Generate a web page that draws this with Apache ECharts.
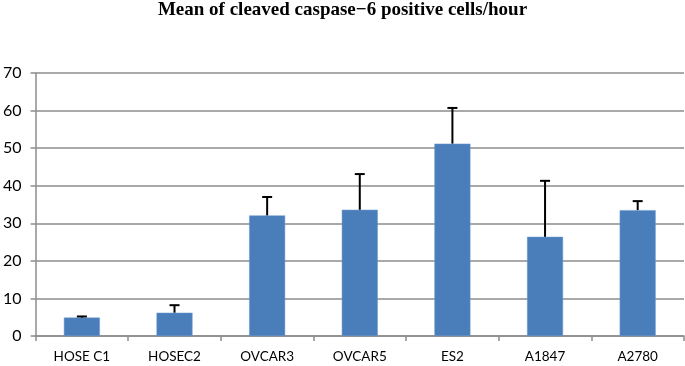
<!DOCTYPE html>
<html>
<head>
<meta charset="utf-8">
<script src="https://cdn.jsdelivr.net/npm/echarts@6/dist/echarts.min.js"></script>
<style>html,body{margin:0;padding:0;background:#fff;}#c{width:685px;height:366px;}</style>
</head>
<body>
<div id="c"></div>
<script>
var categories = ['HOSE C1', 'HOSEC2', 'OVCAR3', 'OVCAR5', 'ES2', 'A1847', 'A2780'];
var means = [4.9, 6.2, 32.1, 33.6, 51.2, 26.4, 33.5];
var errors = [0.3, 2.0, 4.9, 9.5, 9.5, 14.9, 2.4];
var titleText = 'Mean of cleaved caspase\u22126 positive cells/hour';

var errData = categories.map(function (c, i) { return [i, means[i], means[i] + errors[i]]; });

var chart = echarts.init(document.getElementById('c'), null, {renderer: 'canvas'});
chart.setOption({
  animation: false,
  backgroundColor: '#fff',
  title: {
    text: titleText,
    left: 'center',
    top: 0,
    padding: [1, 10, 0, 0],
    textStyle: {fontFamily: 'Liberation Serif', fontWeight: 'bold', fontSize: 19, color: '#000'}
  },
  grid: {left: 33, right: 1, top: 73, bottom: 30, containLabel: false},
  xAxis: {
    type: 'category',
    data: categories,
    axisLine: {lineStyle: {color: '#8c8c8c', width: 1.5}},
    axisTick: {show: true, length: 5, alignWithLabel: false, lineStyle: {color: '#8c8c8c', width: 1.5}},
    axisLabel: {color: '#000', fontFamily: 'Lato', fontSize: 13.5, margin: 14}
  },
  yAxis: {
    type: 'value',
    min: 0, max: 70, interval: 10,
    axisLine: {show: true, lineStyle: {color: '#8c8c8c', width: 1.5}},
    axisTick: {show: true, length: 5, lineStyle: {color: '#8c8c8c', width: 1.5}},
    axisLabel: {color: '#000', fontFamily: 'Lato', fontSize: 16, margin: 14},
    splitLine: {lineStyle: {color: '#8c8c8c', width: 1.5}}
  },
  series: [
    {
      type: 'bar',
      data: means,
      barWidth: 36,
      itemStyle: {color: '#4a7ebb', borderColor: '#6d9bd3', borderWidth: 0.5}
    },
    {
      type: 'custom',
      data: errData,
      z: 10,
      renderItem: function (params, api) {
        var x = api.value(0);
        var p0 = api.coord([x, api.value(1)]);
        var p1 = api.coord([x, api.value(2)]);
        var hw = 5;
        return {
          type: 'group',
          children: [
            {type: 'line', shape: {x1: p0[0], y1: p0[1], x2: p1[0], y2: p1[1]}, style: {stroke: '#000', lineWidth: 2}},
            {type: 'line', shape: {x1: p1[0] - hw, y1: p1[1], x2: p1[0] + hw, y2: p1[1]}, style: {stroke: '#000', lineWidth: 2}}
          ]
        };
      }
    }
  ]
});
</script>
</body>
</html>
